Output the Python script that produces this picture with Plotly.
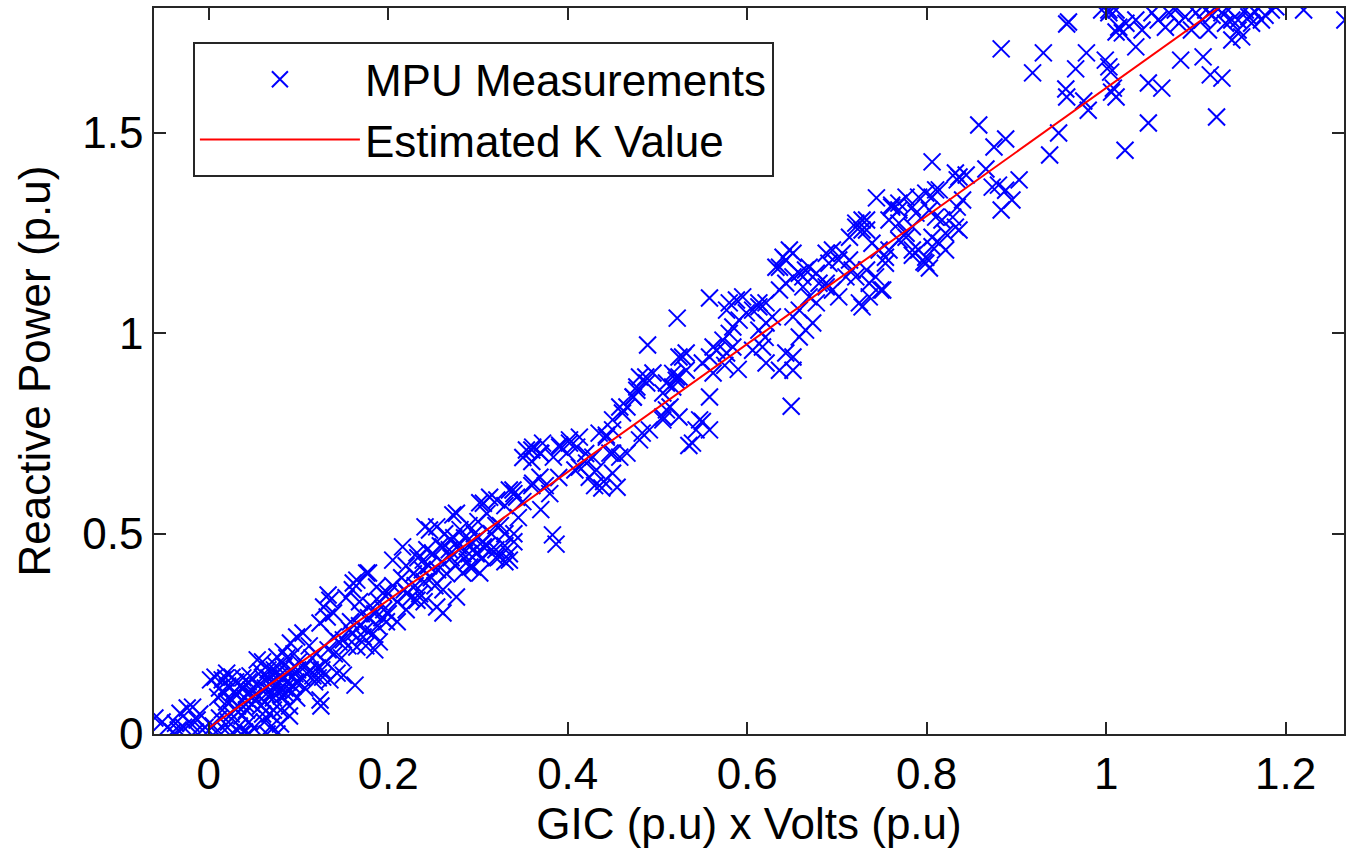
import plotly.graph_objects as go

pts_neg = [(-0.060, 0.040), (-0.046, 0.017), (-0.037, 0.027), (-0.032, 0.052), (-0.024, 0.065),
           (-0.018, 0.067), (-0.028, 0.017), (-0.020, 0.027), (-0.013, 0.035), (-0.007, 0.010),
           (-0.004, 0.017), (-0.015, 0.005), (-0.040, 0.005), (-0.010, 0.050), (-0.052, 0.030),
           (-0.034, 0.010)]

pts_000_005 = [(0.002, 0.135), (0.007, 0.142), (0.015, 0.135), (0.020, 0.152), (0.026, 0.142),
               (0.010, 0.092), (0.016, 0.102), (0.024, 0.117), (0.005, 0.020), (0.008, 0.005),
               (0.012, 0.040), (0.015, 0.060), (0.018, 0.010), (0.020, 0.080), (0.022, 0.030),
               (0.025, 0.050), (0.028, 0.000), (0.030, 0.100), (0.032, 0.070), (0.034, 0.020),
               (0.035, 0.120), (0.037, 0.045), (0.040, 0.090), (0.040, 0.005), (0.042, 0.060),
               (0.044, 0.130), (0.045, 0.030), (0.047, 0.110), (0.048, 0.075), (0.050, 0.015),
               (0.050, 0.095), (0.030, 0.130), (0.012, 0.115), (0.038, 0.140), (0.045, 0.000),
               (0.036, 0.000), (0.026, 0.085), (0.043, 0.100), (0.033, 0.055), (0.021, 0.120),
               (0.028, 0.105), (0.039, 0.115), (0.046, 0.145), (0.019, 0.140), (0.041, 0.075)]

pts_005_010 = [(0.054, 0.185), (0.060, 0.180), (0.076, 0.192), (0.083, 0.205), (0.091, 0.227),
               (0.098, 0.242), (0.055, 0.120), (0.058, 0.070), (0.060, 0.140), (0.062, 0.030),
               (0.064, 0.100), (0.066, 0.160), (0.068, 0.050), (0.070, 0.130), (0.072, 0.090),
               (0.074, 0.150), (0.076, 0.000), (0.078, 0.110), (0.080, 0.060), (0.082, 0.140),
               (0.084, 0.170), (0.086, 0.100), (0.088, 0.130), (0.090, 0.070), (0.092, 0.160),
               (0.094, 0.120), (0.096, 0.150), (0.098, 0.090), (0.100, 0.180), (0.070, 0.020),
               (0.065, 0.000), (0.080, 0.025), (0.090, 0.045), (0.075, 0.170), (0.087, 0.190),
               (0.056, 0.095), (0.060, 0.050), (0.095, 0.200), (0.100, 0.130), (0.068, 0.125),
               (0.058, 0.155), (0.063, 0.115), (0.067, 0.140), (0.071, 0.105), (0.073, 0.160),
               (0.077, 0.125), (0.079, 0.145), (0.081, 0.095), (0.085, 0.115), (0.089, 0.150),
               (0.093, 0.105), (0.097, 0.130), (0.099, 0.160), (0.062, 0.080), (0.072, 0.060)]

pts_010_020 = [(0.105, 0.252), (0.124, 0.085), (0.127, 0.142), (0.135, 0.135), (0.143, 0.152),
               (0.150, 0.147), (0.163, 0.122), (0.124, 0.277), (0.132, 0.292), (0.139, 0.302),
               (0.128, 0.317), (0.135, 0.334), (0.139, 0.242), (0.150, 0.235), (0.157, 0.260),
               (0.165, 0.217), (0.172, 0.242), (0.110, 0.150), (0.115, 0.190), (0.118, 0.130),
               (0.120, 0.200), (0.108, 0.170), (0.112, 0.220), (0.130, 0.180), (0.133, 0.210),
               (0.140, 0.200), (0.145, 0.230), (0.148, 0.190), (0.155, 0.220), (0.158, 0.280),
               (0.160, 0.250), (0.168, 0.270), (0.170, 0.300), (0.175, 0.260), (0.178, 0.290),
               (0.180, 0.320), (0.183, 0.250), (0.185, 0.300), (0.188, 0.270), (0.190, 0.330),
               (0.193, 0.290), (0.195, 0.310), (0.198, 0.280), (0.200, 0.350), (0.160, 0.360),
               (0.153, 0.340), (0.168, 0.330), (0.185, 0.210), (0.190, 0.230), (0.175, 0.220),
               (0.125, 0.070), (0.133, 0.347), (0.161, 0.377), (0.178, 0.402), (0.165, 0.384),
               (0.176, 0.402), (0.187, 0.367), (0.194, 0.352), (0.104, 0.140), (0.107, 0.115),
               (0.113, 0.160), (0.116, 0.145), (0.121, 0.165), (0.122, 0.140), (0.126, 0.160)]

pts_020_030 = [(0.205, 0.434), (0.216, 0.467), (0.232, 0.452), (0.239, 0.434), (0.246, 0.509),
               (0.254, 0.517), (0.261, 0.467), (0.269, 0.484), (0.221, 0.352), (0.232, 0.334),
               (0.254, 0.317), (0.261, 0.302), (0.283, 0.402), (0.291, 0.417), (0.299, 0.452),
               (0.241, 0.517), (0.272, 0.547), (0.276, 0.551), (0.261, 0.360), (0.276, 0.342),
               (0.294, 0.417), (0.200, 0.300), (0.205, 0.370), (0.210, 0.330), (0.215, 0.390),
               (0.218, 0.360), (0.220, 0.420), (0.225, 0.340), (0.228, 0.400), (0.230, 0.370),
               (0.233, 0.440), (0.235, 0.350), (0.238, 0.410), (0.240, 0.380), (0.243, 0.460),
               (0.245, 0.420), (0.248, 0.390), (0.250, 0.450), (0.252, 0.370), (0.255, 0.410),
               (0.258, 0.470), (0.260, 0.430), (0.263, 0.500), (0.265, 0.400), (0.268, 0.460),
               (0.270, 0.440), (0.273, 0.490), (0.275, 0.420), (0.278, 0.470), (0.280, 0.510),
               (0.283, 0.450), (0.285, 0.490), (0.288, 0.430), (0.290, 0.520), (0.293, 0.480),
               (0.296, 0.500), (0.298, 0.450), (0.210, 0.280), (0.220, 0.310), (0.240, 0.330)]

pts_030_040 = [(0.302, 0.577), (0.306, 0.576), (0.313, 0.591), (0.321, 0.584), (0.335, 0.609),
               (0.343, 0.591), (0.339, 0.609), (0.354, 0.709), (0.361, 0.626), (0.369, 0.641),
               (0.324, 0.442), (0.335, 0.434), (0.302, 0.402), (0.306, 0.467), (0.300, 0.530),
               (0.290, 0.450), (0.300, 0.490), (0.310, 0.470), (0.315, 0.500), (0.320, 0.460),
               (0.325, 0.520), (0.330, 0.470), (0.335, 0.450), (0.340, 0.500), (0.330, 0.430),
               (0.305, 0.440), (0.320, 0.440), (0.350, 0.690), (0.360, 0.709), (0.372, 0.726),
               (0.383, 0.497), (0.387, 0.474), (0.350, 0.580), (0.360, 0.620), (0.370, 0.560),
               (0.380, 0.600), (0.390, 0.640), (0.360, 0.680), (0.370, 0.700), (0.340, 0.600),
               (0.330, 0.570), (0.310, 0.550), (0.320, 0.520), (0.330, 0.500), (0.340, 0.480),
               (0.305, 0.480), (0.315, 0.460), (0.361, 0.716), (0.369, 0.701), (0.384, 0.691),
               (0.391, 0.716), (0.399, 0.701), (0.391, 0.721), (0.345, 0.540), (0.375, 0.620)]

pts_040_050 = [(0.402, 0.734), (0.410, 0.716), (0.413, 0.741), (0.443, 0.746), (0.450, 0.759),
               (0.461, 0.801), (0.466, 0.816), (0.473, 0.841), (0.477, 0.866), (0.480, 0.891),
               (0.495, 0.901), (0.489, 0.971), (0.483, 0.751), (0.480, 0.734), (0.450, 0.701),
               (0.466, 0.701), (0.458, 0.816), (0.450, 0.784), (0.435, 0.751), (0.443, 0.741),
               (0.428, 0.691), (0.421, 0.676), (0.402, 0.726), (0.447, 0.701), (0.458, 0.691),
               (0.432, 0.659), (0.450, 0.651), (0.413, 0.666), (0.424, 0.641), (0.408, 0.659),
               (0.438, 0.614), (0.455, 0.616), (0.430, 0.620), (0.440, 0.630), (0.488, 0.876),
               (0.487, 0.891), (0.473, 0.841), (0.491, 0.759), (0.477, 0.858), (0.420, 0.700)]

pts_050_060 = [(0.522, 1.038), (0.558, 1.088), (0.528, 0.941), (0.517, 0.900), (0.521, 0.883),
               (0.524, 0.891), (0.506, 0.851), (0.510, 0.809), (0.506, 0.784), (0.524, 0.791),
               (0.539, 0.726), (0.547, 0.784), (0.558, 0.759), (0.558, 0.841), (0.562, 0.901),
               (0.562, 0.966), (0.517, 0.866), (0.514, 0.816), (0.506, 0.791), (0.510, 0.876),
               (0.521, 0.891), (0.532, 0.908), (0.524, 0.941), (0.532, 0.951), (0.550, 0.926),
               (0.558, 0.941), (0.566, 0.958), (0.573, 0.983), (0.580, 1.000), (0.577, 0.951),
               (0.584, 0.966), (0.584, 1.016), (0.591, 1.033), (0.599, 1.051), (0.580, 1.076),
               (0.588, 1.083), (0.595, 1.091), (0.577, 1.058), (0.543, 0.759), (0.575, 0.920),
               (0.590, 0.910), (0.550, 0.780), (0.535, 0.720)]

pts_060_070 = [(0.606, 1.058), (0.613, 1.066), (0.621, 1.076), (0.636, 1.165), (0.643, 1.183),
               (0.651, 1.200), (0.658, 1.150), (0.665, 1.158), (0.662, 1.141), (0.688, 1.200),
               (0.695, 1.208), (0.613, 1.008), (0.621, 1.026), (0.628, 1.041), (0.606, 0.958),
               (0.617, 0.966), (0.621, 0.926), (0.643, 0.951), (0.651, 0.941), (0.658, 0.991),
               (0.665, 1.008), (0.673, 1.026), (0.651, 0.908), (0.636, 0.908), (0.651, 1.041),
               (0.658, 1.058), (0.677, 1.150), (0.688, 1.125), (0.695, 1.108), (0.632, 1.165),
               (0.640, 1.190), (0.647, 1.208), (0.669, 1.165), (0.691, 1.175), (0.636, 1.108),
               (0.643, 1.125), (0.651, 1.141), (0.662, 1.116), (0.669, 1.091), (0.677, 1.076),
               (0.680, 1.125), (0.688, 1.116), (0.649, 0.818), (0.620, 0.990), (0.613, 1.076)]

pts_070_080 = [(0.702, 1.183), (0.721, 1.275), (0.728, 1.258), (0.733, 1.283), (0.744, 1.338),
               (0.761, 1.320), (0.769, 1.308), (0.791, 1.340), (0.799, 1.350), (0.702, 1.091),
               (0.710, 1.141), (0.717, 1.158), (0.728, 1.066), (0.736, 1.125), (0.743, 1.141),
               (0.751, 1.108), (0.754, 1.175), (0.758, 1.208), (0.769, 1.233), (0.777, 1.250),
               (0.784, 1.266), (0.791, 1.208), (0.799, 1.190), (0.714, 1.240), (0.721, 1.265),
               (0.728, 1.283), (0.733, 1.258), (0.739, 1.225), (0.747, 1.208), (0.754, 1.190),
               (0.758, 1.283), (0.769, 1.275), (0.777, 1.240), (0.784, 1.208), (0.799, 1.175),
               (0.721, 1.141), (0.733, 1.158), (0.706, 1.200), (0.714, 1.183), (0.725, 1.076),
               (0.736, 1.091), (0.749, 1.108), (0.761, 1.315), (0.769, 1.325), (0.777, 1.340),
               (0.784, 1.315), (0.788, 1.300), (0.784, 1.195), (0.797, 1.178)]

pts_080_090 = [(0.806, 1.428), (0.806, 1.340), (0.814, 1.358), (0.832, 1.400), (0.834, 1.383),
               (0.806, 1.240), (0.814, 1.225), (0.821, 1.208), (0.829, 1.290), (0.832, 1.265),
               (0.836, 1.258), (0.806, 1.216), (0.821, 1.250), (0.817, 1.283), (0.810, 1.290),
               (0.803, 1.308), (0.810, 1.358), (0.803, 1.163), (0.836, 1.390), (0.844, 1.395),
               (0.866, 1.410), (0.880, 1.370), (0.888, 1.357), (0.903, 1.383), (0.895, 1.333),
               (0.883, 1.308), (0.873, 1.365), (0.840, 1.333), (0.834, 1.315), (0.858, 1.520),
               (0.875, 1.465), (0.888, 1.485), (0.883, 1.710)]

pts_090_up = [(0.918, 1.650), (0.930, 1.700), (0.937, 1.445), (0.947, 1.500), (0.956, 1.590),
              (0.955, 1.610), (0.958, 1.777), (0.956, 1.772), (0.966, 1.660), (0.978, 1.700),
              (0.980, 1.557), (0.975, 1.580), (0.999, 1.682), (1.003, 1.665), (1.005, 1.652),
              (1.006, 1.602), (1.011, 1.590), (1.008, 1.612), (1.021, 1.457), (1.033, 1.715),
              (1.047, 1.625), (1.062, 1.612), (1.047, 1.525), (1.083, 1.682), (1.108, 1.690),
              (1.116, 1.645), (1.129, 1.637), (1.123, 1.540), (1.140, 1.732), (1.151, 1.740),
              (1.147, 1.757), (1.014, 1.764), (1.018, 1.750), (1.011, 1.752), (1.022, 1.774),
              (1.003, 1.800), (1.011, 1.807), (1.033, 1.782), (1.040, 1.757), (1.051, 1.800),
              (1.058, 1.782), (1.066, 1.764), (1.070, 1.800), (1.077, 1.807), (1.081, 1.774),
              (1.088, 1.790), (1.095, 1.757), (1.100, 1.800), (1.107, 1.782), (1.111, 1.807),
              (1.114, 1.757), (1.118, 1.794), (1.122, 1.815), (1.129, 1.800), (1.133, 1.774),
              (1.136, 1.807), (1.140, 1.782), (1.147, 1.782), (1.155, 1.807), (1.159, 1.790),
              (1.162, 1.774), (1.166, 1.802), (1.173, 1.782), (1.177, 1.794), (1.184, 1.807),
              (1.189, 1.815), (1.220, 1.807), (1.266, 1.782), (0.995, 1.807), (1.003, 1.807)]

# ---- estimated K value line (endpoints)
line_x = [0.0, 1.13]
line_y = [0.015, 1.82]

all_pts = (pts_neg + pts_000_005 + pts_005_010 + pts_010_020 + pts_020_030 + pts_030_040 +
           pts_040_050 + pts_050_060 + pts_060_070 + pts_070_080 + pts_080_090 + pts_090_up)
mpu_x = [p[0] for p in all_pts]
mpu_y = [p[1] for p in all_pts]

FONT = "Liberation Sans, Arial, Helvetica, sans-serif"
FS = 44

fig = go.Figure()
fig.add_trace(go.Scatter(
    x=mpu_x, y=mpu_y, mode="markers", name="MPU Measurements",
    marker=dict(symbol="x-thin", size=17, color="#0000ff",
                line=dict(color="#0000ff", width=2)),
))
fig.add_trace(go.Scatter(
    x=line_x, y=line_y, mode="lines", name="Estimated K Value",
    line=dict(color="#ff0000", width=2),
))

axis_common = dict(
    showgrid=False, zeroline=False, showline=True, mirror="ticks",
    linecolor="#262626", linewidth=1.6, ticks="inside", ticklen=12,
    tickwidth=1.6, tickcolor="#262626",
    tickfont=dict(family=FONT, size=FS, color="#000000"),
)

fig.update_layout(
    width=1349, height=851,
    margin=dict(l=154, r=3, t=8, b=117),
    paper_bgcolor="white", plot_bgcolor="white",
    font=dict(family=FONT, color="#000000"),
    showlegend=True,
    legend=dict(
        x=0.0327, y=0.953, xanchor="left", yanchor="top",
        bgcolor="white", bordercolor="#262626", borderwidth=2,
        font=dict(family=FONT, size=FS, color="#000000"),
        itemwidth=160,
    ),
    xaxis=dict(axis_common, range=[-0.061, 1.265],
               tickvals=[0, 0.2, 0.4, 0.6, 0.8, 1.0, 1.2],
               ticktext=["0", "0.2", "0.4", "0.6", "0.8", "1", "1.2"],
               title=dict(text="GIC (p.u) x Volts (p.u)", standoff=12,
                          font=dict(family=FONT, size=FS, color="#000000"))),
    yaxis=dict(axis_common, range=[0, 1.812],
               tickvals=[0, 0.5, 1.0, 1.5],
               ticktext=["0", "0.5", "1", "1.5"],
               title=dict(text="Reactive Power (p.u)", standoff=18,
                          font=dict(family=FONT, size=FS, color="#000000"))),
)

fig.write_html("out.html")
